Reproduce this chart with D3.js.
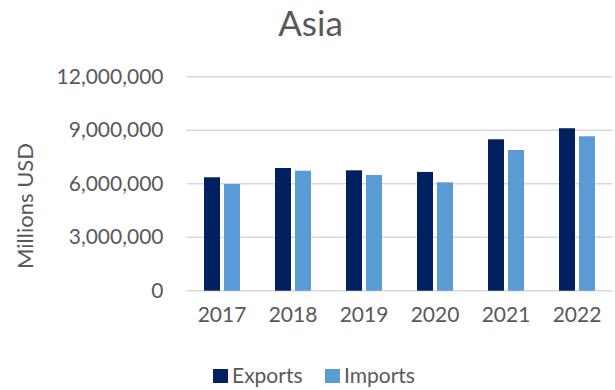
<!DOCTYPE html>
<html>
<head>
<meta charset="utf-8">
<script src="https://cdn.jsdelivr.net/npm/d3@7"></script>
<style>
  html, body { margin: 0; padding: 0; background: #fff; }
  svg { display: block; }
  text { font-family: Lato, "Open Sans", sans-serif; fill: #595959; }
</style>
</head>
<body>
<svg id="chart" width="615" height="390"></svg>
<script>
// Asia trade, millions USD
const years = ["2017", "2018", "2019", "2020", "2021", "2022"];
const exportsValues = [6360000, 6880000, 6750000, 6660000, 8490000, 9110000];
const importsValues = [5980000, 6730000, 6490000, 6080000, 7890000, 8660000];
const seriesNames = ["Exports", "Imports"];
const seriesColors = ["#002060", "#5b9bd5"];
const yTicks = [0, 3000000, 6000000, 9000000, 12000000];

const svg = d3.select("#chart");
const W = 615, H = 390;
const margin = { top: 76.7, right: 2.5, bottom: 99.3, left: 186.5 };
const innerW = W - margin.left - margin.right;
const innerH = H - margin.top - margin.bottom;

const g = svg.append("g").attr("transform", `translate(${margin.left},${margin.top})`);

const x0 = d3.scaleBand().domain(years).range([0, innerW]).paddingInner(0).paddingOuter(0);
const x1 = d3.scaleBand().domain(seriesNames)
  .range([x0.bandwidth() / 2 - 18, x0.bandwidth() / 2 + 18]).paddingInner(0.2);
const y = d3.scaleLinear().domain([0, 12000000]).range([innerH, 0]);

// horizontal gridlines
g.append("g").selectAll("line").data(yTicks).join("line")
  .attr("x1", 0).attr("x2", innerW)
  .attr("y1", d => y(d)).attr("y2", d => y(d))
  .attr("stroke", "#d9d9d9").attr("stroke-width", 1.5);

// y axis labels
const fmt = d3.format(",");
const yAxis = d3.axisLeft(y).tickValues(yTicks).tickFormat(d => fmt(d)).tickSize(0).tickPadding(23);
const ya = g.append("g").call(yAxis);
ya.select(".domain").remove();
ya.selectAll("text").style("font-family", "Lato, 'Open Sans', sans-serif")
  .style("font-size", "21px").attr("fill", "#595959");

// x axis labels
const xAxis = d3.axisBottom(x0).tickSize(0).tickPadding(16);
const xa = g.append("g").attr("transform", `translate(0,${innerH})`).call(xAxis);
xa.select(".domain").remove();
xa.selectAll("text").style("font-family", "Lato, 'Open Sans', sans-serif")
  .style("font-size", "21px").attr("fill", "#595959");

// bars
const rows = years.map((yr, i) => ({ year: yr, values: [exportsValues[i], importsValues[i]] }));
const groups = g.append("g").selectAll("g").data(rows).join("g")
  .attr("transform", d => `translate(${x0(d.year)},0)`);
groups.selectAll("rect").data(d => d.values.map((v, k) => ({ name: seriesNames[k], value: v, k })))
  .join("rect")
  .attr("x", d => x1(d.name))
  .attr("width", x1.bandwidth())
  .attr("y", d => y(d.value))
  .attr("height", d => innerH - y(d.value))
  .attr("fill", d => seriesColors[d.k]);

// title
svg.append("text").attr("x", 310.5).attr("y", 36).attr("text-anchor", "middle")
  .style("font-size", "35px").text("Asia");

// y axis title
svg.append("text").attr("transform", "translate(33,206) rotate(-90)")
  .attr("text-anchor", "middle").style("font-size", "22px").text("Millions USD");

// legend
const legendX = [213, 325];
const leg = svg.append("g").selectAll("g").data(seriesNames).join("g")
  .attr("transform", (d, i) => `translate(${legendX[i]},369)`);
leg.append("rect").attr("width", 15).attr("height", 14).attr("fill", (d, i) => seriesColors[i]);
leg.append("text").attr("x", 19).attr("y", 14).style("font-size", "21px").text(d => d);
</script>
</body>
</html>
